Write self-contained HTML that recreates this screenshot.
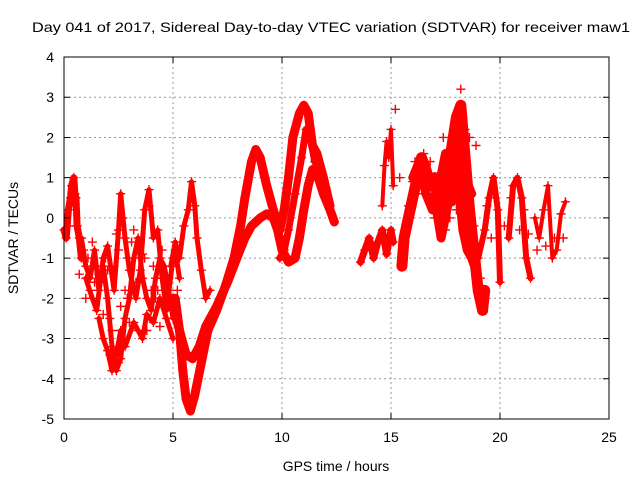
<!DOCTYPE html>
<html><head><meta charset="utf-8"><style>
html,body{margin:0;padding:0;background:#fff;}
svg{display:block;font-family:"Liberation Sans",sans-serif;}
</style></head><body>
<svg id="chart" width="640" height="480" viewBox="0 0 640 480">
<text x="331" y="32" font-size="14" text-anchor="middle" textLength="598" lengthAdjust="spacingAndGlyphs">Day 041 of 2017, Sidereal Day-to-day VTEC variation (SDTVAR) for receiver maw1</text>
<g id="grid"></g>
<g id="marks"></g>
<rect x="64" y="57" width="545" height="362" fill="none" stroke="#000" stroke-width="1"/>
<g id="axes"></g>
<text x="336" y="471" font-size="14" text-anchor="middle">GPS time / hours</text>
<text transform="translate(18,238) rotate(-90)" font-size="14" text-anchor="middle">SDTVAR / TECUs</text>
</svg>
<script>
const xTicks=[0,5,10,15,20,25];
const yTicks=[-5,-4,-3,-2,-1,0,1,2,3,4];
const tD=[0,0.1,0.2,0.3,0.35,0.45,0.5,0.55,0.6,0.7,0.8];
const vD=[-0.3,-0.5,0.2,0.5,0.8,1.0,0.6,0.5,-0.2,-0.5,-1.0];
const tE=[0.8,1.0,1.2,1.4,1.6,1.8,2.0,2.2,2.4,2.6,2.8,3.0,3.2,3.4,3.6,3.8,4.0,4.2,4.4,4.6,4.8,5.0];
const vE=[-0.5,-1.2,-1.5,-0.8,-1.8,-1.2,-2.0,-3.2,-3.8,-3.5,-2.5,-2.0,-1.0,-0.5,-1.5,-2.0,-2.3,-1.5,-1.0,-1.2,-1.8,-2.5];
const tF=[1.0,1.3,1.5,1.8,2.0,2.3,2.5,2.6,2.8,3.0,3.3,3.5,3.7,3.9,4.1,4.3,4.5,4.7,5.0,5.1,5.3];
const vF=[-1.5,-2.0,-2.3,-1.0,-0.7,-1.8,-0.3,0.6,-0.5,-1.3,-2.0,-1.3,0.2,0.7,-0.5,-0.3,-1.5,-2.3,-1.0,-0.8,-1.5];
const tG=[1.6,1.8,2.0,2.2,2.4,2.6,2.8,3.2,3.4,3.6,3.8,4.1,4.4,4.7,5.0];
const vG=[-2.5,-3.0,-3.3,-3.8,-3.4,-2.8,-3.2,-2.6,-2.8,-3.0,-2.4,-2.6,-2.0,-2.5,-3.0];
const tH=[4.9,5.1,5.3,5.5,5.7,5.85,6.0,6.1,6.3,6.5,6.7];
const vH=[-1.2,-0.6,-1.0,-0.2,0.2,0.9,0.3,-0.5,-1.3,-2.0,-1.8];
const tA=[5.0,5.2,5.4,5.6,5.9,6.2,6.5,7.0,7.5,8.0,8.3,8.6,9.0,9.3,9.6,9.8,10.0,10.3,10.6,10.8,11.0,11.2,11.4,11.6,11.9,12.2,12.4];
const vA=[-2.0,-2.6,-3.0,-3.4,-3.5,-3.2,-2.7,-2.2,-1.6,-0.9,-0.5,-0.2,0.0,0.1,0.0,-0.3,-0.8,-1.1,-1.0,-0.5,0.2,0.8,1.2,1.1,0.6,0.2,-0.1];
const tB=[5.1,5.3,5.45,5.6,5.8,6.0,6.3,6.6,7.0,7.4,7.8,8.1,8.3,8.6,8.8,9.0,9.3,9.6,9.9,10.1,10.3,10.5,10.8,11.0,11.2,11.4,11.6,11.9,12.2];
const vB=[-2.0,-2.8,-3.8,-4.5,-4.8,-4.4,-3.6,-2.8,-2.3,-1.7,-1.0,-0.2,0.5,1.4,1.7,1.5,0.8,0.2,-0.3,0.2,1.0,2.0,2.6,2.8,2.6,1.8,1.6,1.0,0.3];
const tC=[9.9,10.1,10.3,10.6,10.9,11.1,11.3,11.5,11.7,12.0];
const vC=[-1.0,-0.8,-0.3,0.6,1.5,2.2,2.0,1.4,1.2,0.6];
const tI=[13.6,13.8,14.0,14.2,14.4,14.6,14.8,14.9,15.0,15.1];
const vI=[-1.1,-0.8,-0.5,-1.0,-0.6,-0.3,-0.9,-0.6,-0.3,-0.6];
const tJ=[14.6,14.7,14.8,14.9,15.0,15.1];
const vJ=[0.3,1.3,1.9,1.5,2.2,0.8];
const tK=[15.5,15.6,15.8,16.0,16.2,16.4,16.6,16.8,17.0,17.2,17.4,17.6,17.8,18.0,18.2,18.4,18.6,18.8,19.0,19.2,19.3];
const vK=[-1.2,-0.5,0.0,0.5,1.0,1.5,1.2,0.8,1.0,0.0,0.5,1.0,1.8,2.5,2.8,1.5,0.2,-0.8,-1.8,-2.3,-1.8];
const tL=[17.0,17.3,17.6,17.9,18.1,18.3,18.5,18.7,18.9];
const vL=[0.5,-0.5,0.3,1.2,0.8,-0.3,-0.8,-1.0,-1.3];
const tP=[16.0,16.3,16.6,16.9,17.2,17.5,17.8,18.1,18.4,18.7];
const vP=[1.0,1.4,0.6,0.2,0.8,1.6,0.4,1.8,1.0,0.6];
const tM=[19.0,19.3,19.5,19.7,19.9,20.0];
const vM=[-1.0,-0.3,0.5,1.0,0.2,-1.6];
const tN=[20.4,20.6,20.8,21.0,21.2,21.4];
const vN=[-0.5,0.8,1.0,0.5,-1.0,-1.5];
const tO=[21.6,21.8,22.0,22.2,22.4,22.6,22.8,23.0];
const vO=[0.0,-0.5,0.2,0.8,-1.0,-0.8,0.1,0.4];
const seriesT=[tD,tE,tF,tG,tH,tA,tB,tC,tI,tJ,tK,tL,tP,tM,tN,tO];
const seriesV=[vD,vE,vF,vG,vH,vA,vB,vC,vI,vJ,vK,vL,vP,vM,vN,vO];
const seriesW=[7,5,5,5,5,9,9,7,7,4,11,9,9,6,6,4];
const cloudT=[0.3,0.5,0.9,1.1,1.2,1.5,1.7,1.9,2.1,2.3,2.5,2.7,2.9,3.1,3.3,3.5,3.7,3.9,4.1,4.3,4.5,4.7,4.9,0.7,1.0,1.4,1.8,2.2,2.6,3.0,3.4,3.8,4.2,4.6,2.1,2.5,2.9,4.0,4.4,1.3,1.6,2.0,2.4,2.8,3.2,3.6,4.8,5.2,
 15.8,16.0,16.2,16.4,16.6,16.8,17.1,17.3,17.5,17.7,17.9,18.1,18.3,18.5,18.7,16.1,16.5,16.9,17.2,17.6,18.0,18.4,18.8,17.4,17.8,18.2,18.6,17.0,17.5,18.0,18.5,16.3,16.7,19.1,19.4,19.6,20.2,20.5,20.9,21.1,21.3,21.7,22.1,22.5,22.9,15.2,15.4,18.3,18.9];
const cloudV=[0.3,-0.2,-0.8,-1.0,-1.8,-1.2,-1.6,-1.0,-2.5,-1.2,-0.8,0.0,-1.0,-0.6,-1.6,-0.6,-1.0,0.3,-1.2,-1.8,-0.8,-1.6,-1.2,-1.4,-2.0,-1.6,-2.4,-2.8,-2.2,-2.6,-1.6,-2.8,-2.0,-1.5,-3.4,-3.6,-2.0,-1.8,-2.7,-0.6,-1.4,-1.3,-0.4,-1.8,-0.3,-0.9,-2.0,-1.8,
 0.3,0.9,0.6,1.2,0.7,1.4,0.5,-0.2,0.7,0.0,0.5,1.6,1.0,0.4,-0.3,1.4,1.6,1.0,0.9,1.5,0.2,2.2,-0.2,2.0,1.3,3.2,2.0,0.0,-0.3,0.8,0.8,1.0,0.6,-1.5,0.3,-0.5,-0.2,0.5,-0.3,0.2,-0.4,-0.8,-0.7,-0.5,-0.5,2.7,1.0,2.5,1.8];

const X0=64,X1=609,Y0=419,Y1=57;
function xs(t){return X0+(t-0)/(25-0)*(X1-X0);}
function ys(v){return Y0-(v-(-5))/(4-(-5))*(Y0-Y1);}
const NS="http://www.w3.org/2000/svg";
const grid=document.getElementById('grid'),axes=document.getElementById('axes'),marks=document.getElementById('marks');
function mk(tag,attrs,parent){const e=document.createElementNS(NS,tag);for(const k in attrs)e.setAttribute(k,attrs[k]);parent.appendChild(e);return e;}
xTicks.forEach(t=>{
  const x=xs(t);
  if(t>0&&t<25){const g=mk('line',{x1:x,x2:x,y1:Y1,y2:Y0,stroke:'#999','stroke-dasharray':'2,3'},grid);
  
  }
  const tk=mk('path',{d:`M${x},${Y0}v-6M${x},${Y1}v6`,stroke:'#000'},axes);
  
  
  const l=mk('text',{x:x,y:Y0+23,'font-size':14,'text-anchor':'middle'},axes);l.textContent=t;
  
  
});
yTicks.forEach(v=>{
  const y=ys(v);
  if(v>-5&&v<4){const g=mk('line',{x1:X0,x2:X1,y1:y,y2:y,stroke:'#999','stroke-dasharray':'2,3'},grid);
  
  }
  const tk=mk('path',{d:`M${X0},${y}h6M${X1},${y}h-6`,stroke:'#000'},axes);
  
  
  const l=mk('text',{x:X0-10,y:y+5,'font-size':14,'text-anchor':'end'},axes);l.textContent=v;
  
  
});
function cross(t,v){
  const x=xs(t),y=ys(v);
  const p=mk('path',{d:`M${x-4.5},${y}h9M${x},${y-4.5}v9`,stroke:'#f00','stroke-width':1.4},marks);
  
  
}
seriesT.forEach((ts,i)=>{
  const vs=seriesV[i];
  const pts=ts.map((t,j)=>xs(t).toFixed(1)+','+ys(vs[j]).toFixed(1)).join(' ');
  const pl=mk('polyline',{points:pts,fill:'none',stroke:'#f00','stroke-width':seriesW[i],'stroke-linejoin':'round','stroke-linecap':'round'},marks);
  
  
  ts.forEach((t,j)=>cross(t,vs[j]));
});
cloudT.forEach((t,j)=>cross(t,cloudV[j]));
</script>
</body></html>
